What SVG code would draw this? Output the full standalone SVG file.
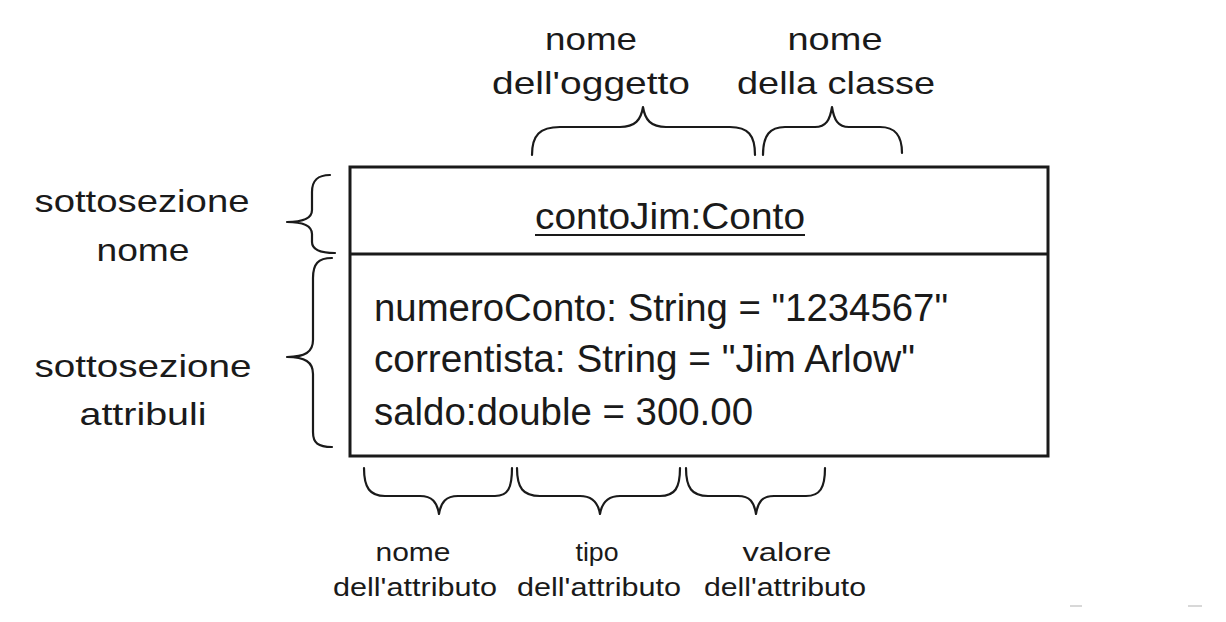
<svg xmlns="http://www.w3.org/2000/svg" width="1226" height="622" viewBox="0 0 1226 622">
<style>
  .t { font-family: "Liberation Sans", Arial, sans-serif; fill: #1a1a1a; }
  .lbl { font-size: 32px; text-anchor: middle; }
  .title { font-size: 36px; text-anchor: middle; }
  .small { font-size: 25px; text-anchor: middle; }
  .attr { font-size: 38px; }
  .brace { fill: none; stroke: #1a1a1a; stroke-width: 2.2; stroke-linecap: round; stroke-linejoin: round; }
  .box { fill: #ffffff; stroke: #1a1a1a; stroke-width: 3; }
</style>
<rect x="0" y="0" width="1226" height="622" fill="#ffffff"/>

<g id="object-node">
  <rect class="box" x="350" y="167" width="698" height="289"/>
  <line x1="350" y1="254" x2="1048" y2="254" stroke="#1a1a1a" stroke-width="3"/>
  <text class="t title" x="670" y="229" textLength="270" lengthAdjust="spacingAndGlyphs">contoJim:Conto</text>
  <line x1="535" y1="235" x2="805" y2="235" stroke="#1a1a1a" stroke-width="1.8"/>
  <text class="t attr" x="374" y="321" textLength="574" lengthAdjust="spacingAndGlyphs">numeroConto: String = "1234567"</text>
  <text class="t attr" x="374" y="372" textLength="541" lengthAdjust="spacingAndGlyphs">correntista: String = "Jim Arlow"</text>
  <text class="t attr" x="374" y="425" textLength="379" lengthAdjust="spacingAndGlyphs">saldo:double = 300.00</text>
</g>

<g id="label-nome-oggetto">
  <text class="t lbl" x="591" y="50" textLength="92" lengthAdjust="spacingAndGlyphs">nome</text>
  <text class="t lbl" x="591" y="94" textLength="198" lengthAdjust="spacingAndGlyphs">dell'oggetto</text>
</g>
<g id="label-nome-classe">
  <text class="t lbl" x="835" y="50" textLength="95" lengthAdjust="spacingAndGlyphs">nome</text>
  <text class="t lbl" x="836" y="94" textLength="198" lengthAdjust="spacingAndGlyphs">della classe</text>
</g>
<g id="label-sottosezione-nome">
  <text class="t lbl" x="142" y="212" textLength="215" lengthAdjust="spacingAndGlyphs">sottosezione</text>
  <text class="t lbl" x="143" y="261" textLength="93" lengthAdjust="spacingAndGlyphs">nome</text>
</g>
<g id="label-sottosezione-attributi">
  <text class="t lbl" x="143" y="377" textLength="217" lengthAdjust="spacingAndGlyphs">sottosezione</text>
  <text class="t lbl" x="143" y="425" textLength="127" lengthAdjust="spacingAndGlyphs">attribuli</text>
</g>
<g id="label-nome-attributo">
  <text class="t small" x="413" y="561" textLength="75" lengthAdjust="spacingAndGlyphs">nome</text>
  <text class="t small" x="415" y="596" textLength="164" lengthAdjust="spacingAndGlyphs">dell'attributo</text>
</g>
<g id="label-tipo-attributo">
  <text class="t small" x="597" y="561" textLength="43" lengthAdjust="spacingAndGlyphs">tipo</text>
  <text class="t small" x="599" y="596" textLength="164" lengthAdjust="spacingAndGlyphs">dell'attributo</text>
</g>
<g id="label-valore-attributo">
  <text class="t small" x="787" y="561" textLength="89" lengthAdjust="spacingAndGlyphs">valore</text>
  <text class="t small" x="785" y="596" textLength="162" lengthAdjust="spacingAndGlyphs">dell'attributo</text>
</g>

<g id="connectors">
  <path class="brace" d="M532,155 C532,135 540,127 560,127 L620,127 C635,127 641,120 643,107 C645,120 651,127 666,127 L730,127 C748,127 755,135 755,155"/>
  <path class="brace" d="M763,155 C763,135 770,127 785,127 L815,127 C826,127 830,120 832,107 C834,120 838,127 849,127 L880,127 C895,127 902,135 902,153"/>
  <path class="brace" d="M330,175 C318,175 312,180 312,192 L312,210 C312,218 305,222 287,222 C305,222 312,226 312,234 L312,242 C312,250 320,253 335,253"/>
  <path class="brace" d="M332,258 C318,258 313,264 313,278 L313,340 C313,352 305,357 287,357 C305,357 313,362 313,374 L313,432 C313,443 318,447 332,447"/>
  <path class="brace" d="M364,468 C364,488 370,496 385,496 L420,496 C432,496 437,502 439,514 C441,502 446,496 458,496 L495,496 C508,496 512,488 512,468"/>
  <path class="brace" d="M517,468 C517,488 523,496 540,496 L580,496 C592,496 598,502 600,514 C602,502 608,496 620,496 L660,496 C675,496 680,488 680,468"/>
  <path class="brace" d="M686,468 C686,488 692,496 708,496 L738,496 C750,496 754,502 756,514 C758,502 762,496 774,496 L806,496 C820,496 825,488 825,468"/>
</g>

<line x1="1070" y1="606" x2="1082" y2="606" stroke="#d8d8d8" stroke-width="2"/>
<line x1="1188" y1="606" x2="1202" y2="606" stroke="#d8d8d8" stroke-width="2"/>
</svg>
